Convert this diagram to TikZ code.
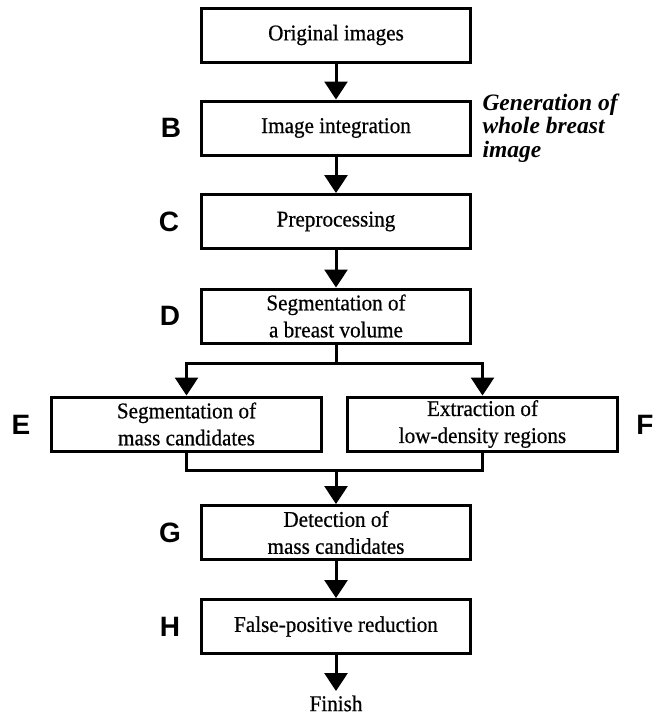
\documentclass[tikz,border=0pt]{standalone}
\usepackage{fontspec}
\setmainfont{Liberation Serif}
\setsansfont{Liberation Sans}
\newfontfamily\boxfont[FakeStretch=0.94,FakeBold=0.6]{Liberation Serif}
\usetikzlibrary{arrows.meta}

\begin{document}
\begin{tikzpicture}[x=1pt,y=-1pt,line width=3pt,>={Triangle[width=23pt,length=18pt]},
  stage/.style={draw,line width=3pt,minimum width=269pt,minimum height=54pt,
    inner sep=0pt,align=center,font=\boxfont\fontsize{22.5}{27}\selectfont},
  tag/.style={inner sep=0pt,font=\sffamily\bfseries\fontsize{28}{28}\selectfont}]
\useasboundingbox (0,0) rectangle (660,715);

\node[stage] (orig) at (336,35) {Original images};
\node[stage] (integ) at (336,128) {Image integration};
\node[stage] (prep) at (336,221.5) {Preprocessing};
\node[stage] (vol) at (336,316) {Segmentation of\\a breast volume};

\node[stage,minimum width=270pt] (mass) at (186.5,424) {Segmentation of\\mass candidates};
\node[stage,minimum width=270pt] (lowd) at (482.5,424) {Extraction of\\low-density regions};

\node[stage] (detect) at (336,532.5) {Detection of\\mass candidates};
\node[stage] (fpr) at (336,626.5) {False-positive reduction};
\node[anchor=north,inner sep=3pt,font=\boxfont\fontsize{22.5}{27}\selectfont] (finish) at (336,691) {Finish};

\node[tag] (tagB) at (171,128) {B};
\node[tag] (tagC) at (169,222) {C};
\node[tag] (tagD) at (170,316) {D};
\node[tag] (tagE) at (21,425) {E};
\node[tag] (tagF) at (645,425) {F};
\node[tag] (tagG) at (170,533) {G};
\node[tag] (tagH) at (170,627) {H};

\node[anchor=north west,inner sep=0pt,align=left,
  font=\bfseries\itshape\fontsize{23.5}{23.5}\selectfont] (note) at (481,92)
  {Generation of\\whole breast\\image};

\draw[->] (orig) -- (integ);
\draw[->] (integ) -- (prep);
\draw[->] (prep) -- (vol);

\coordinate (fork) at (336,363);
\draw (vol) -- (fork);
\draw[->] (fork) -| (mass.north);
\draw[->] (fork) -| (lowd.north);

\coordinate (join) at (336,470);
\draw (mass.south) |- (join) -| (lowd.south);
\draw[->] (join) -- (detect);
\draw[->] (detect) -- (fpr);
\draw[->] (fpr) -- (finish);

\end{tikzpicture}
\end{document}
